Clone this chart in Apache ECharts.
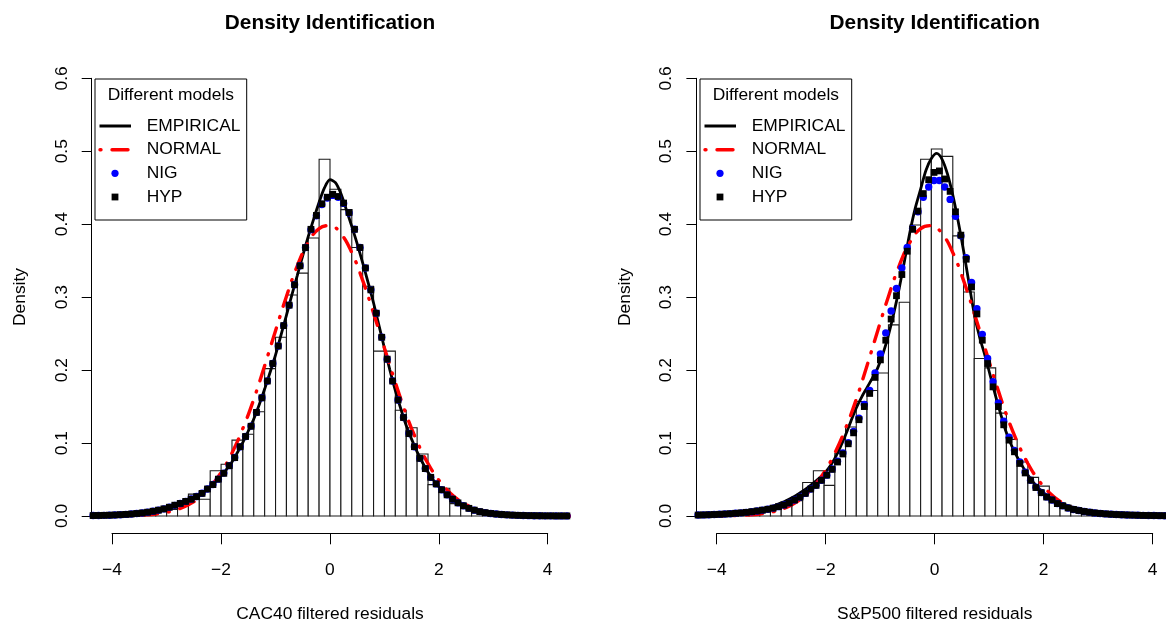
<!DOCTYPE html>
<html><head><meta charset="utf-8">
<script src="https://cdn.jsdelivr.net/npm/echarts@6/dist/echarts.min.js"></script>
<style>html,body{margin:0;padding:0;background:#fff}#c{width:1166px;height:626px}</style>
</head><body><div id="c"></div>
<script>
// ---------- data ----------
const binStart = -4.4, binWidth = 0.2;   // histogram bins
const cacHist = [0.001,0.001,0.002,0.002,0.003,0.005,0.006,0.009,0.014,0.030,0.023,0.062,0.071,0.104,0.112,0.143,0.202,0.245,0.303,0.333,0.381,0.489,
                 0.448,0.420,0.368,0.315,0.226,0.226,0.145,0.121,0.085,0.043,0.038,0.017,0.011,0.006,0.004,0.003,0.002,0.001,0.001,0.0005,0,0];
const spHist  = [0.001,0.002,0.002,0.003,0.004,0.006,0.008,0.009,0.013,0.021,0.046,0.062,0.042,0.086,0.122,0.157,0.172,0.196,0.262,0.293,0.399,0.489,
                 0.503,0.493,0.384,0.307,0.216,0.203,0.141,0.105,0.074,0.053,0.041,0.020,0.013,0.009,0.006,0.004,0.003,0.002,0.002,0.001,0.001,0.001];

const empStart = -4.4, empStep = 0.1;     // empirical density curves
const cacEmpirical = [0.0005,0.0006,0.0008,0.0010,0.0012,0.0015,0.0018,0.0023,0.0028,0.0035,0.0042,0.0052,0.0065,0.0082,0.0100,0.0124,0.0150,0.0176,0.0205,0.0240,0.0280,0.0335,
                      0.0400,0.0470,0.0550,0.0640,0.0740,0.0870,0.1010,0.1165,0.1330,0.1525,0.1740,0.1970,0.2210,0.2480,0.2750,0.3030,0.3300,0.3570,0.3830,0.4070,0.4300,0.4500,
                      0.4610,0.4570,0.4420,0.4200,0.3970,0.3730,0.3470,0.3200,0.2920,0.2610,0.2300,0.2000,0.1720,0.1470,0.1240,0.1050,0.0880,0.0730,0.0600,0.0490,0.0400,0.0325,
                      0.0260,0.0208,0.0165,0.0130,0.0100,0.0078,0.0060,0.0047,0.0036,0.0028,0.0022,0.0017,0.0013,0.0010,0.0008,0.0006,0.0005,0.0004,0.0003,0.0003,0.0002,0.0002,0.0001];
const spEmpirical = [0.0018,0.0020,0.0022,0.0025,0.0028,0.0032,0.0036,0.0042,0.0048,0.0056,0.0065,0.0076,0.0088,0.0105,0.0125,0.0150,0.0180,0.0213,0.0250,0.0293,0.0340,0.0393,
                     0.0450,0.0512,0.0580,0.0670,0.0790,0.0940,0.1110,0.1300,0.1480,0.1630,0.1760,0.1890,0.2030,0.2230,0.2480,0.2780,0.3120,0.3500,0.3890,0.4220,0.4480,0.4740,
                     0.4900,0.4970,0.4890,0.4690,0.4400,0.4040,0.3640,0.3200,0.2770,0.2450,0.2200,0.1920,0.1640,0.1380,0.1140,0.0960,0.0810,0.0680,0.0560,0.0465,0.0380,0.0315,
                     0.0260,0.0217,0.0180,0.0153,0.0130,0.0111,0.0095,0.0082,0.0070,0.0060,0.0052,0.0045,0.0039,0.0034,0.0029,0.0025,0.0022,0.0019,0.0017,0.0015,0.0013,0.0011,0.0010];

const normStart = -4.4, normStep = 0.2;   // normal density curves
const cacNormal = [0.0000,0.0001,0.0002,0.0004,0.0007,0.0015,0.0028,0.0051,0.0091,0.0154,0.0252,0.0396,0.0596,0.0863,0.1200,0.1600,0.2060,0.2540,0.3010,0.3430,0.3750,0.3940,
                   0.3980,0.3870,0.3610,0.3230,0.2780,0.2300,0.1830,0.1390,0.1020,0.0720,0.0490,0.0320,0.0200,0.0120,0.0069,0.0038,0.0020,0.0010,0.0005,0.0002,0.0001,0.0000,0.0000];
const spNormal = [0.0000,0.0001,0.0002,0.0004,0.0007,0.0015,0.0028,0.0051,0.0091,0.0154,0.0252,0.0396,0.0596,0.0863,0.1200,0.1600,0.2060,0.2540,0.3010,0.3430,0.3750,0.3940,
                  0.3980,0.3870,0.3610,0.3230,0.2780,0.2300,0.1830,0.1390,0.1020,0.0720,0.0490,0.0320,0.0200,0.0120,0.0069,0.0038,0.0020,0.0010,0.0005,0.0002,0.0001,0.0000,0.0000];

const pointStart = -4.35, pointStep = 0.1; // NIG & HYP fitted points
const cacNIG = [0.0006,0.0007,0.0009,0.0011,0.0014,0.0018,0.0022,0.0027,0.0034,0.0042,0.0052,0.0065,0.0080,0.0098,0.0120,0.0146,0.0172,0.0200,0.0232,0.0268,0.0312,0.0370,
                0.0432,0.0505,0.0588,0.0690,0.0802,0.0948,0.1090,0.1232,0.1420,0.1620,0.1850,0.2090,0.2330,0.2610,0.2890,0.3170,0.3430,0.3680,0.3925,0.4115,0.4270,0.4360,
                0.4395,0.4370,0.4285,0.4155,0.3930,0.3680,0.3400,0.3100,0.2780,0.2450,0.2150,0.1850,0.1590,0.1350,0.1130,0.0950,0.0790,0.0650,0.0530,0.0440,0.0360,0.0290,
                0.0230,0.0180,0.0140,0.0105,0.0080,0.0060,0.0046,0.0035,0.0027,0.0021,0.0016,0.0012,0.0009,0.0007,0.0005,0.0004,0.0003,0.0002,0.0002,0.0001,0.0001,0.0001];
const cacHYP = [0.0006,0.0007,0.0009,0.0011,0.0014,0.0018,0.0022,0.0027,0.0034,0.0042,0.0052,0.0065,0.0080,0.0098,0.0120,0.0148,0.0172,0.0200,0.0230,0.0265,0.0310,0.0370,
                0.0430,0.0505,0.0585,0.0690,0.0800,0.0950,0.1090,0.1230,0.1420,0.1620,0.1850,0.2090,0.2330,0.2610,0.2890,0.3170,0.3430,0.3680,0.3930,0.4120,0.4280,0.4370,
                0.4410,0.4380,0.4290,0.4160,0.3930,0.3680,0.3400,0.3100,0.2780,0.2450,0.2150,0.1850,0.1590,0.1350,0.1130,0.0950,0.0790,0.0650,0.0530,0.0440,0.0360,0.0290,
                0.0230,0.0180,0.0140,0.0105,0.0080,0.0060,0.0046,0.0035,0.0027,0.0021,0.0016,0.0012,0.0009,0.0007,0.0005,0.0004,0.0003,0.0002,0.0002,0.0001,0.0001,0.0001];
const spNIG = [0.0013,0.0015,0.0017,0.0020,0.0023,0.0027,0.0031,0.0037,0.0043,0.0050,0.0059,0.0069,0.0080,0.0092,0.0108,0.0128,0.0150,0.0180,0.0220,0.0260,0.0310,0.0370,
               0.0420,0.0490,0.0560,0.0645,0.0750,0.0865,0.1005,0.1160,0.1340,0.1530,0.1720,0.1960,0.2220,0.2510,0.2810,0.3120,0.3400,0.3680,0.3940,0.4170,0.4370,0.4510,
               0.4600,0.4600,0.4510,0.4340,0.4110,0.3840,0.3540,0.3200,0.2840,0.2490,0.2160,0.1840,0.1550,0.1300,0.1080,0.0900,0.0740,0.0600,0.0490,0.0395,0.0322,0.0262,
               0.0220,0.0170,0.0140,0.0110,0.0090,0.0075,0.0062,0.0051,0.0042,0.0035,0.0029,0.0024,0.0020,0.0017,0.0014,0.0012,0.0010,0.0008,0.0007,0.0006,0.0005,0.0004];
const spHYP = [0.0013,0.0015,0.0017,0.0020,0.0023,0.0027,0.0031,0.0037,0.0043,0.0050,0.0059,0.0069,0.0080,0.0092,0.0108,0.0128,0.0150,0.0180,0.0220,0.0260,0.0310,0.0370,
               0.0420,0.0490,0.0560,0.0640,0.0740,0.0850,0.0990,0.1140,0.1320,0.1500,0.1680,0.1900,0.2140,0.2410,0.2700,0.3020,0.3310,0.3630,0.3930,0.4180,0.4420,0.4610,
               0.4710,0.4730,0.4620,0.4450,0.4170,0.3850,0.3520,0.3140,0.2770,0.2410,0.2090,0.1770,0.1500,0.1250,0.1040,0.0880,0.0720,0.0590,0.0490,0.0390,0.0320,0.0260,
               0.0220,0.0170,0.0140,0.0110,0.0090,0.0075,0.0062,0.0051,0.0042,0.0035,0.0029,0.0024,0.0020,0.0017,0.0014,0.0012,0.0010,0.0008,0.0007,0.0006,0.0005,0.0004];

const panelTitle = 'Density Identification';
const xTitles = ['CAC40 filtered residuals', 'S&P500 filtered residuals'];
const yTitle = 'Density';
const legendTitle = 'Different models';
const seriesNames = ['EMPIRICAL', 'NORMAL', 'NIG', 'HYP'];

// ---------- helpers ----------
const FONT = '"Liberation Sans", Arial, Helvetica, sans-serif';
const FS = 17.4;
const NORMAL_DASH = [1, 11, 16, 11];
function pairs(start, step, arr) { return arr.map((v, i) => [+(start + step * i).toFixed(3), v]); }
function histData(arr) { return arr.map((v, i) => [+(binStart + binWidth * i).toFixed(2), +(binStart + binWidth * (i + 1)).toFixed(2), v]); }
function renderBin(params, api) {
  const p0 = api.coord([api.value(0), api.value(2)]);
  const p1 = api.coord([api.value(1), 0]);
  return { type: 'rect', shape: { x: p0[0], y: p0[1], width: p1[0] - p0[0], height: p1[1] - p0[1] },
           style: { fill: '#fff', stroke: '#1a1a1a', lineWidth: 1.1 } };
}

const panels = [
  { hist: cacHist, emp: cacEmpirical, nor: cacNormal, nig: cacNIG, hyp: cacHYP, dataLeft: 91.7, dataWidth: 476.6, axisLeft: 112, axisWidth: 435.7, dx: 0, cx: 330 },
  { hist: spHist, emp: spEmpirical, nor: spNormal, nig: spNIG, hyp: spHYP, dataLeft: 696.7, dataWidth: 476.0, axisLeft: 716.7, axisWidth: 436.0, dx: 605, cx: 934.7 }
];

const grid = [], xAxis = [], yAxis = [], series = [], graphic = [];
panels.forEach((p, k) => {
  const gd = grid.length;
  grid.push({ left: p.dataLeft, width: p.dataWidth, top: 60.8, height: 472.7 });
  grid.push({ left: p.axisLeft, width: p.axisWidth, top: 78.3, height: 437.7 });
  xAxis.push({ gridIndex: gd, type: 'value', min: -4.376, max: 4.376, show: false });
  yAxis.push({ gridIndex: gd, type: 'value', min: -0.024, max: 0.624, show: false });
  xAxis.push({ gridIndex: gd + 1, type: 'value', min: -4, max: 4, interval: 2, offset: 17.3,
    axisLine: { show: true, onZero: false, lineStyle: { color: '#000', width: 1 } },
    axisTick: { show: true, length: 11, lineStyle: { color: '#000', width: 1 } },
    splitLine: { show: false },
    axisLabel: { margin: 28.7, fontSize: FS, fontFamily: FONT, color: '#000',
                 formatter: v => String(v).replace('-', '\u2212') } });
  yAxis.push({ gridIndex: gd + 1, type: 'value', min: 0, max: 0.6, interval: 0.1, offset: 20.3,
    axisLine: { show: true, onZero: false, lineStyle: { color: '#000', width: 1 } },
    axisTick: { show: true, length: 10, lineStyle: { color: '#000', width: 1 } },
    splitLine: { show: false },
    axisLabel: { rotate: 90, margin: 21.3, fontSize: FS, fontFamily: FONT, color: '#000',
                 formatter: v => v.toFixed(1) } });
  const xi = gd, yi = gd;
  series.push({ type: 'custom', name: 'hist' + k, xAxisIndex: xi, yAxisIndex: yi, data: histData(p.hist),
    encode: { x: [0, 1], y: 2 }, renderItem: renderBin, clip: true, z: 1, silent: true });
  series.push({ type: 'line', name: seriesNames[0], xAxisIndex: xi, yAxisIndex: yi, data: pairs(empStart, empStep, p.emp),
    symbol: 'none', smooth: 0.3, clip: true, z: 3, lineStyle: { color: '#000', width: 2.8 } });
  series.push({ type: 'line', name: seriesNames[1], xAxisIndex: xi, yAxisIndex: yi, data: pairs(normStart, normStep, p.nor),
    symbol: 'none', smooth: 0.45, clip: true, z: 4, lineStyle: { color: '#ff0000', width: 3.4, type: NORMAL_DASH, cap: 'round' } });
  series.push({ type: 'scatter', name: seriesNames[2], xAxisIndex: xi, yAxisIndex: yi, data: pairs(pointStart, pointStep, p.nig),
    symbol: 'circle', symbolSize: 7.4, clip: true, z: 5, itemStyle: { color: '#0000ff', opacity: 1 } });
  series.push({ type: 'scatter', name: seriesNames[3], xAxisIndex: xi, yAxisIndex: yi, data: pairs(pointStart, pointStep, p.hyp),
    symbol: 'rect', symbolSize: 6.8, clip: true, z: 6, itemStyle: { color: '#000', opacity: 1 } });

  // titles
  graphic.push({ type: 'text', x: p.cx, y: 23.5, style: { text: panelTitle, fontSize: 20.8, fontWeight: 'bold', fontFamily: FONT, fill: '#000', align: 'center', verticalAlign: 'middle' } });
  graphic.push({ type: 'text', x: p.cx, y: 614.5, style: { text: xTitles[k], fontSize: FS, fontFamily: FONT, fill: '#000', align: 'center', verticalAlign: 'middle' } });
  graphic.push({ type: 'text', x: 20 + p.dx, y: 297, rotation: Math.PI / 2, style: { text: yTitle, fontSize: FS, fontFamily: FONT, fill: '#000', align: 'center', verticalAlign: 'middle' } });
  // legend box
  const d = p.dx;
  graphic.push({ type: 'rect', shape: { x: 95 + d, y: 79, width: 151.7, height: 141 }, style: { fill: '#fff', stroke: '#000', lineWidth: 1 }, z: 10 });
  graphic.push({ type: 'text', x: 170.8 + d, y: 95, z: 11, style: { text: legendTitle, fontSize: FS, fontFamily: FONT, fill: '#000', align: 'center', verticalAlign: 'middle' } });
  const rows = [126, 149.7, 173.3, 197];
  seriesNames.forEach((nm, j) => {
    graphic.push({ type: 'text', x: 146.7 + d, y: rows[j], z: 11, style: { text: nm, fontSize: FS, fontFamily: FONT, fill: '#000', align: 'left', verticalAlign: 'middle' } });
  });
  graphic.push({ type: 'line', z: 11, shape: { x1: 99.5 + d, y1: rows[0], x2: 131 + d, y2: rows[0] }, style: { stroke: '#000', lineWidth: 3 } });
  graphic.push({ type: 'line', z: 11, shape: { x1: 100 + d, y1: rows[1], x2: 131 + d, y2: rows[1] }, style: { stroke: '#ff0000', lineWidth: 3.4, lineDash: NORMAL_DASH, lineCap: 'round' } });
  graphic.push({ type: 'circle', z: 11, shape: { cx: 115 + d, cy: rows[2], r: 3.6 }, style: { fill: '#0000ff' } });
  graphic.push({ type: 'rect', z: 11, shape: { x: 111.6 + d, y: rows[3] - 3.4, width: 6.8, height: 6.8 }, style: { fill: '#000' } });
});

const chart = echarts.init(document.getElementById('c'), null, { renderer: 'canvas' });
chart.setOption({ animation: false, backgroundColor: '#fff', grid, xAxis, yAxis, series, graphic });
</script></body></html>
